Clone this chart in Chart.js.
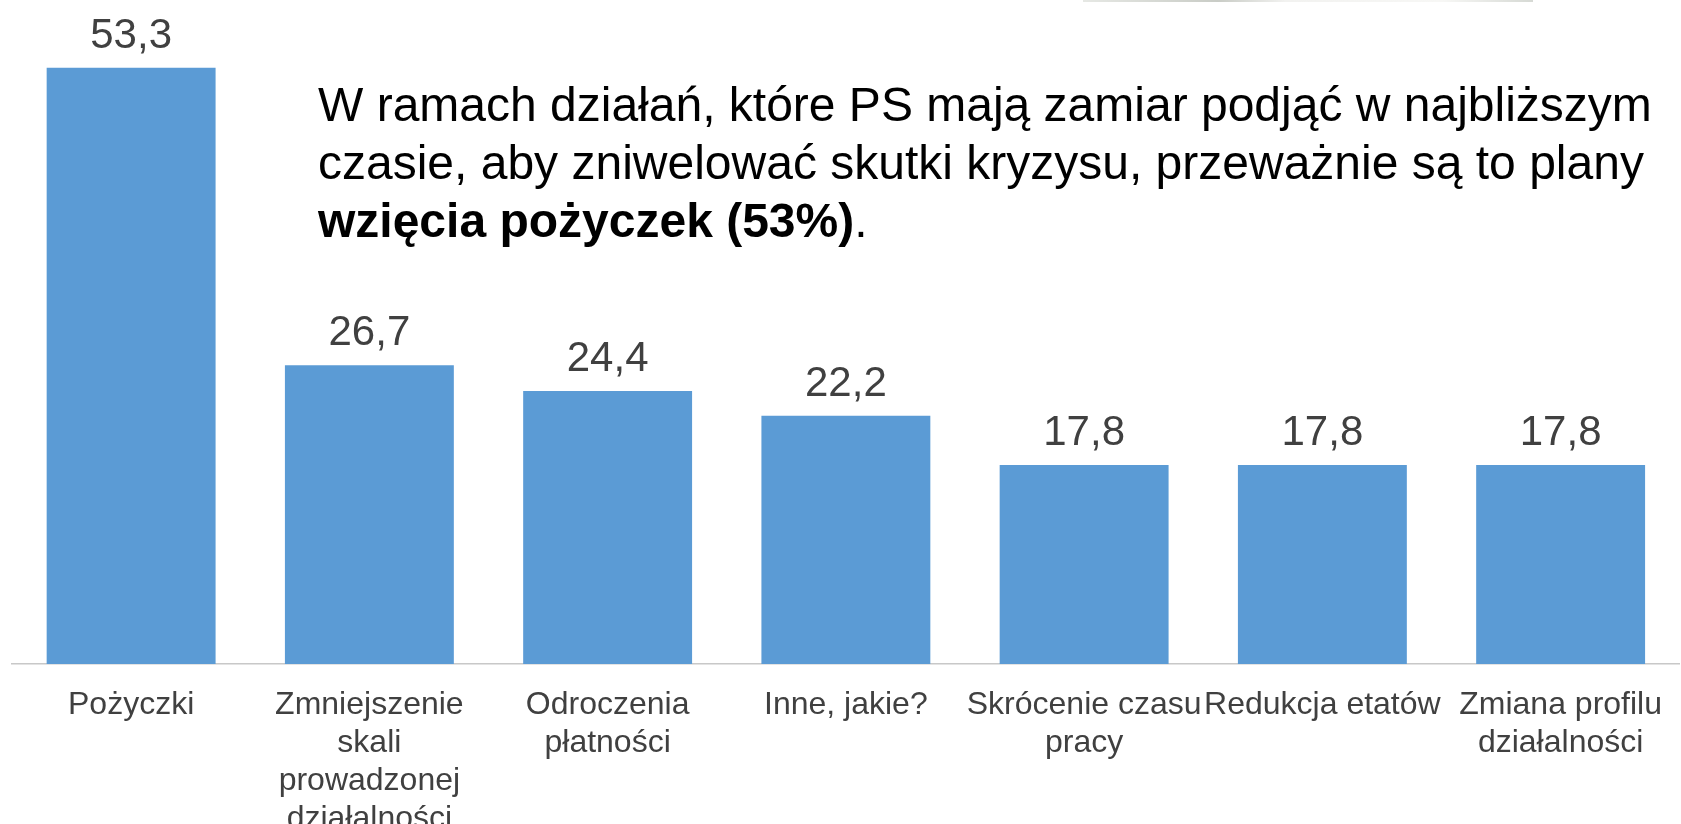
<!DOCTYPE html>
<html lang="pl">
<head>
<meta charset="utf-8">
<title>Działania PS</title>
<script src="https://cdn.jsdelivr.net/npm/chart.js@4.4.1/dist/chart.umd.min.js"></script>
<style>
    html, body { margin: 0; padding: 0; background: #fff; }
    #wrap { position: relative; width: 1681px; height: 824px; overflow: hidden; }
    #barChart { display: block; }
    #note {
        position: absolute;
        left: 318px;
        top: 76px;
        font-family: "Liberation Sans", Arial, sans-serif;
        font-size: 48px;
        line-height: 58px;
        color: #000;
        white-space: nowrap;
    }
    /* scrap of the slide photo peeking in at the top edge */
    #photo-edge {
        position: absolute;
        left: 1083px;
        top: 0;
        width: 450px;
        height: 2px;
        background: linear-gradient(90deg, #e6e8e4, #c9ccc6 30%, #f2f2f0 45%, #f7f7f5 80%, #d6d9d4);
    }
</style>
</head>
<body>
<div id="wrap">
    <!-- canvas a few px wider than the slide: last bar sits close to the cut edge -->
    <canvas id="barChart" width="1684" height="824"></canvas>
    <div id="photo-edge"></div>
    <div id="note">
        W ramach działań, które PS mają zamiar podjąć w najbliższym<br>
        czasie, aby zniwelować skutki kryzysu, przeważnie są to plany<br>
        <b>wzięcia pożyczek (53%)</b>.
    </div>
</div>

<script>
// --- DATA ---
const categories = [
    ['Pożyczki'],
    ['Zmniejszenie', 'skali', 'prowadzonej', 'działalności'],
    ['Odroczenia', 'płatności'],
    ['Inne, jakie?'],
    ['Skrócenie czasu', 'pracy'],
    ['Redukcja etatów'],
    ['Zmiana profilu', 'działalności']
];
const values = [53.3, 26.7, 24.4, 22.2, 17.8, 17.8, 17.8];

const barColor = '#5B9BD5';
const textColor = '#404040';
const fontFamily = '"Liberation Sans", Arial, sans-serif';

// Polish decimal comma
function fmt(v) {
    return v.toFixed(1).replace('.', ',');
}

// Value labels above each bar (no datalabels plugin available)
const valueLabels = {
    id: 'valueLabels',
    afterDatasetsDraw(chart) {
        const ctx = chart.ctx;
        const meta = chart.getDatasetMeta(0);
        ctx.save();
        ctx.font = '42px ' + fontFamily;
        ctx.fillStyle = textColor;
        ctx.textAlign = 'center';
        ctx.textBaseline = 'alphabetic';
        meta.data.forEach((bar, i) => {
            ctx.fillText(fmt(values[i]), bar.x, bar.y - 20);
        });
        ctx.restore();
    }
};

document.addEventListener('DOMContentLoaded', () => {
    const ctx = document.getElementById('barChart').getContext('2d');

    new Chart(ctx, {
        type: 'bar',
        data: {
            labels: categories,
            datasets: [{
                data: values,
                backgroundColor: barColor,
                borderWidth: 0,
                barPercentage: 0.709,
                categoryPercentage: 1
            }]
        },
        options: {
            responsive: false,
            animation: false,
            devicePixelRatio: 1,
            layout: { padding: { top: 4, left: 12, right: 0, bottom: 0 } },
            plugins: {
                legend: { display: false },
                tooltip: { enabled: false }
            },
            scales: {
                x: {
                    grid: { display: false, drawTicks: false },
                    border: { display: true, color: '#c8c8c8', width: 1.5 },
                    ticks: {
                        color: textColor,
                        font: { family: fontFamily, size: 32, lineHeight: 1.19 },
                        padding: 22,
                        autoSkip: false,
                        maxRotation: 0,
                        minRotation: 0
                    },
                    afterFit: (scale) => { scale.height = 160; }
                },
                y: {
                    display: false,
                    min: 0,
                    max: 59
                }
            }
        },
        plugins: [valueLabels]
    });
});
</script>
</body>
</html>
